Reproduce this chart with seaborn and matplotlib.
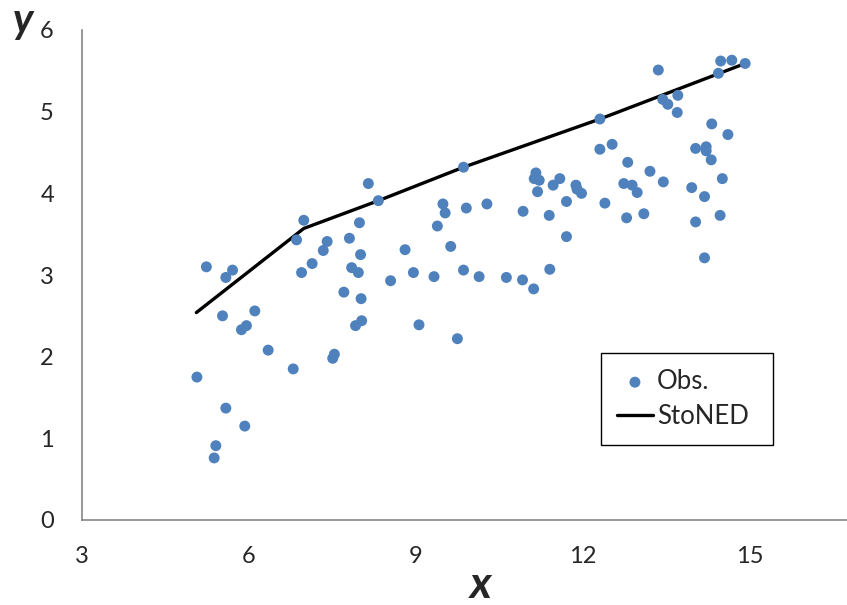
import pandas as pd
import matplotlib
matplotlib.use("Agg")
import matplotlib.pyplot as plt
import seaborn as sns

obs_x = [5.24, 5.59, 5.71, 5.53, 6.11, 5.87, 5.96, 6.35, 5.07, 6.80,
         5.59, 5.93, 5.41, 5.38, 7.51, 7.54, 6.86, 7.41, 7.34, 7.14,
         6.95, 7.81, 8.01, 7.85, 7.97, 7.71, 8.02, 8.03, 7.92, 8.55,
         8.15, 8.33, 6.99, 7.99, 8.81, 8.96, 9.33, 9.06, 9.75, 9.86,
         9.49, 9.53, 9.39, 9.91, 10.28, 9.63, 9.86, 10.14, 10.63, 10.92,
         11.12, 10.93, 11.16, 11.13, 11.22, 11.19, 11.40, 11.41, 12.31, 12.31,
         12.53, 12.81, 13.21, 13.45, 12.74, 12.89, 12.98, 12.40, 12.79, 13.10,
         11.59, 11.47, 11.88, 11.90, 11.98, 11.71, 11.71, 14.32, 14.61, 14.03,
         14.22, 14.22, 14.31, 14.51, 13.96, 14.19, 14.47, 14.03, 14.19, 13.44,
         13.53, 13.70, 13.36, 14.48, 14.68, 14.92, 14.44, 13.71]
obs_y = [3.10, 2.97, 3.06, 2.50, 2.56, 2.33, 2.38, 2.08, 1.75, 1.85,
         1.37, 1.15, 0.91, 0.76, 1.98, 2.03, 3.43, 3.41, 3.30, 3.14,
         3.03, 3.45, 3.25, 3.09, 3.03, 2.79, 2.71, 2.44, 2.38, 2.93,
         4.12, 3.91, 3.67, 3.64, 3.31, 3.03, 2.98, 2.39, 2.22, 4.32,
         3.87, 3.76, 3.60, 3.82, 3.87, 3.35, 3.06, 2.98, 2.97, 2.94,
         2.83, 3.78, 4.25, 4.18, 4.16, 4.02, 3.73, 3.07, 4.91, 4.54,
         4.60, 4.38, 4.27, 4.14, 4.12, 4.10, 4.01, 3.88, 3.70, 3.75,
         4.18, 4.10, 4.10, 4.05, 4.00, 3.90, 3.47, 4.85, 4.72, 4.55,
         4.57, 4.52, 4.41, 4.18, 4.07, 3.96, 3.73, 3.65, 3.21, 5.15,
         5.09, 4.99, 5.51, 5.62, 5.63, 5.59, 5.47, 5.20]

# StoNED frontier
stoned_x = [5.06, 6.99, 8.33, 9.86, 12.31, 14.92]
stoned_y = [2.54, 3.57, 3.91, 4.32, 4.91, 5.59]

obs = pd.DataFrame({"x": obs_x, "y": obs_y})
front = pd.DataFrame({"x": stoned_x, "y": stoned_y})

sns.set_style("white")
plt.rcParams["font.family"] = ["Lato", "DejaVu Sans"]

fig = plt.figure(figsize=(8.47, 6.05), dpi=100)
ax = fig.add_axes([81.7 / 847, 85 / 605, 1 - 81.7 / 847, 490 / 605])

sns.scatterplot(data=obs, x="x", y="y", ax=ax, color="#4F81BD", s=62,
                edgecolor="none", label="Obs.", zorder=3)
sns.lineplot(data=front, x="x", y="y", ax=ax, color="black", linewidth=2.4,
             label="StoNED", zorder=2)

ax.set_xlim(3, 16.75)
ax.set_ylim(0, 6)
ax.set_xticks([3, 6, 9, 12, 15])
ax.set_yticks([0, 1, 2, 3, 4, 5, 6])
ax.set_xlabel("")
ax.set_ylabel("")
ax.tick_params(axis="both", length=0, labelsize=17)
ax.tick_params(axis="x", pad=19)
ax.tick_params(axis="y", pad=20)
for side in ["top", "right"]:
    ax.spines[side].set_visible(False)
for side in ["left", "bottom"]:
    ax.spines[side].set_color("#868686")
    ax.spines[side].set_linewidth(1.2)

# legend box stretched to the reference width
leg = ax.legend(loc="upper left",
                bbox_to_anchor=(601 / 847, 1 - 444 / 605, 172 / 847, 91 / 605),
                bbox_transform=fig.transFigure, mode="expand", fontsize=18.5,
                frameon=True, fancybox=False, framealpha=1, edgecolor="black",
                handlelength=1.4, handletextpad=0.15, borderpad=0.62,
                labelspacing=0.4, borderaxespad=0)
leg.get_frame().set_linewidth(1.0)

fig.text(23 / 847, 1 - 21 / 605, "y", fontsize=30, fontweight="bold",
         fontstyle="italic", ha="center", va="center")
fig.text(481 / 847, 1 - 585 / 605, "x", fontsize=32, fontweight="bold",
         fontstyle="italic", ha="center", va="center")

fig.savefig("out.png", dpi=100)
